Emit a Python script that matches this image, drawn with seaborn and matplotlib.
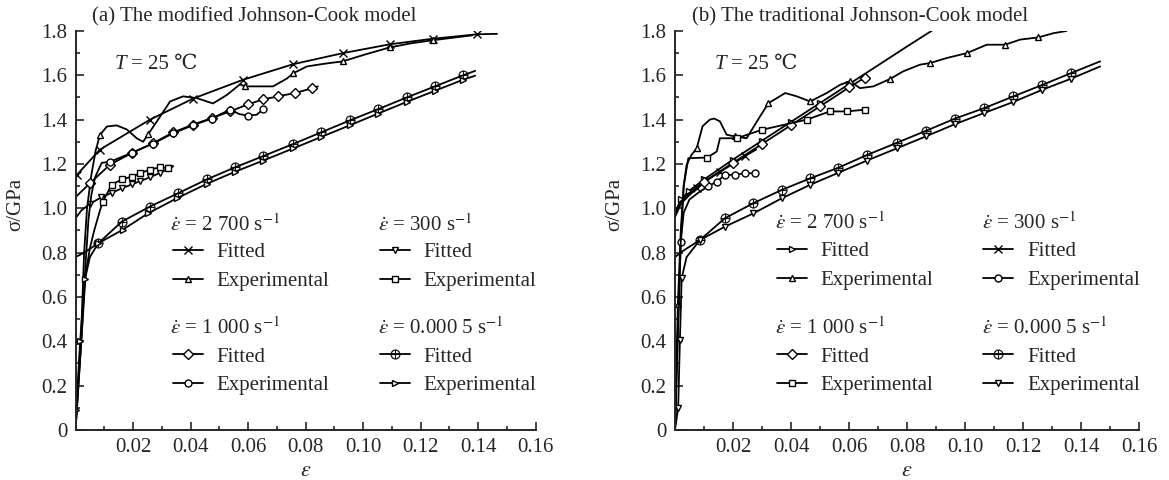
import matplotlib
matplotlib.use('Agg')
import matplotlib.pyplot as plt
import seaborn as sns

# ---- (a) modified Johnson-Cook ----
a_2700_fit_x = [0, 0.0004, 0.0085, 0.0259, 0.0409, 0.0583, 0.0757, 0.093, 0.1094, 0.1243, 0.1397, 0.1466]
a_2700_fit_y = [1.13, 1.15, 1.265, 1.40, 1.495, 1.58, 1.65, 1.70, 1.74, 1.765, 1.785, 1.787]
a_2700_exp_x = [0, 0.002, 0.003, 0.004, 0.0055, 0.007, 0.0085, 0.0109, 0.0143, 0.0178, 0.0213, 0.0235,
                0.0252, 0.0282, 0.0329, 0.0374, 0.0422, 0.0478, 0.0525, 0.0572, 0.059, 0.0687, 0.0736,
                0.0757, 0.0805, 0.0865, 0.093, 0.101, 0.1094, 0.117, 0.1243, 0.1315, 0.1379]
a_2700_exp_y = [0, 0.45, 0.8, 1.0, 1.15, 1.26, 1.331, 1.369, 1.374, 1.356, 1.316, 1.30,
                1.333, 1.39, 1.482, 1.505, 1.497, 1.473, 1.51, 1.559, 1.55, 1.55, 1.586,
                1.609, 1.64, 1.652, 1.663, 1.695, 1.726, 1.745, 1.758, 1.77, 1.78]
a_1000_fit_x = [0, 0.005, 0.012, 0.0195, 0.027, 0.0339, 0.0409, 0.0474, 0.0537, 0.06, 0.0652, 0.0704, 0.0763, 0.0822, 0.0843]
a_1000_fit_y = [1.05, 1.113, 1.197, 1.249, 1.294, 1.342, 1.378, 1.407, 1.437, 1.469, 1.491, 1.505, 1.52, 1.541, 1.55]
a_1000_exp_x = [0, 0.002, 0.0035, 0.0045, 0.0055, 0.0068, 0.0091, 0.012, 0.0195, 0.027, 0.0339, 0.0409,
                0.0474, 0.0537, 0.057, 0.06, 0.063, 0.0652]
a_1000_exp_y = [0, 0.4, 0.75, 0.95, 1.06, 1.14, 1.205, 1.21, 1.25, 1.292, 1.338, 1.375,
                1.405, 1.445, 1.425, 1.418, 1.422, 1.446]
a_300_fit_x = [0, 0.002, 0.005, 0.009, 0.0126, 0.0161, 0.0196, 0.0224, 0.0259, 0.0294, 0.0325, 0.034]
a_300_fit_y = [0.955, 0.99, 1.02, 1.05, 1.07, 1.09, 1.108, 1.122, 1.14, 1.16, 1.18, 1.19]
a_300_exp_x = [0, 0.002, 0.0035, 0.005, 0.0065, 0.0085, 0.0095, 0.0126, 0.0161, 0.0196, 0.0224, 0.0259, 0.0294, 0.0322, 0.0335]
a_300_exp_y = [0, 0.4, 0.7, 0.82, 0.9, 0.99, 1.03, 1.107, 1.13, 1.143, 1.158, 1.175, 1.185, 1.181, 1.19]
a_qs_fit_x = [0, 0.003, 0.0079, 0.0161, 0.0259, 0.0357, 0.0456, 0.0555, 0.0652, 0.0757, 0.0855, 0.0955,
              0.1052, 0.1152, 0.125, 0.1348, 0.139]
a_qs_fit_y = [0.78, 0.80, 0.842, 0.94, 1.008, 1.068, 1.13, 1.185, 1.235, 1.29, 1.343, 1.397,
              1.447, 1.50, 1.55, 1.60, 1.62]
a_qs_exp_x = [0, 0.0003, 0.0016, 0.0033, 0.005, 0.0079, 0.0165, 0.0252, 0.0352, 0.0456, 0.0555, 0.0652,
              0.0757, 0.0855, 0.0955, 0.1052, 0.1152, 0.125, 0.1348, 0.139]
a_qs_exp_y = [0, 0.09, 0.4, 0.68, 0.78, 0.842, 0.904, 0.977, 1.045, 1.11, 1.165, 1.215,
              1.27, 1.322, 1.375, 1.427, 1.48, 1.53, 1.58, 1.598]

# ---- (b) traditional Johnson-Cook ----
b_2700_fit_x = [0, 0.002, 0.005, 0.01, 0.02, 0.03, 0.04, 0.05, 0.06, 0.07, 0.08, 0.089]
b_2700_fit_y = [0.98, 1.04, 1.08, 1.13, 1.22, 1.305, 1.39, 1.475, 1.56, 1.645, 1.73, 1.805]
b_2700_exp_x = [0, 0.001, 0.002, 0.003, 0.004, 0.0057, 0.0075, 0.0095, 0.012, 0.0135, 0.0155, 0.0178,
                0.0207, 0.0247, 0.0293, 0.0322, 0.038, 0.042, 0.0466, 0.0523, 0.0569, 0.0603, 0.0638,
                0.0684, 0.0741, 0.0787, 0.0845, 0.0879, 0.0937, 0.1006, 0.1075, 0.1138, 0.119, 0.1253,
                0.1305, 0.135]
b_2700_exp_y = [0, 0.57, 0.9, 1.1, 1.196, 1.241, 1.271, 1.37, 1.40, 1.405, 1.392, 1.332,
                1.324, 1.316, 1.414, 1.474, 1.52, 1.505, 1.482, 1.52, 1.557, 1.573, 1.542,
                1.55, 1.583, 1.618, 1.648, 1.655, 1.678, 1.70, 1.738, 1.738, 1.761, 1.771,
                1.79, 1.80]
b_1000_fit_x = [0, 0.002, 0.005, 0.01, 0.02, 0.03, 0.04, 0.05, 0.06, 0.0655]
b_1000_fit_y = [0.97, 1.03, 1.07, 1.12, 1.205, 1.29, 1.375, 1.46, 1.545, 1.59]
b_1000_exp_x = [0, 0.001, 0.002, 0.003, 0.0046, 0.0111, 0.0144, 0.0155, 0.0213, 0.0299, 0.035, 0.0454, 0.0534, 0.0592, 0.0655]
b_1000_exp_y = [0, 0.45, 0.85, 1.1, 1.226, 1.229, 1.256, 1.316, 1.316, 1.354, 1.369, 1.40, 1.437, 1.437, 1.445]
b_300_fit_x = [0, 0.002, 0.005, 0.0075, 0.0115, 0.0155, 0.02, 0.024, 0.028]
b_300_fit_y = [0.96, 1.02, 1.06, 1.09, 1.13, 1.165, 1.20, 1.235, 1.265]
b_300_exp_x = [0, 0.001, 0.002, 0.003, 0.005, 0.008, 0.0115, 0.0144, 0.0172, 0.0207, 0.024, 0.0276]
b_300_exp_y = [0, 0.45, 0.85, 0.98, 1.04, 1.07, 1.10, 1.12, 1.15, 1.152, 1.158, 1.158]
b_qs_fit_x = [0, 0.003, 0.0086, 0.0172, 0.027, 0.0368, 0.0466, 0.0563, 0.0661, 0.0764, 0.0866, 0.0966,
              0.1066, 0.1167, 0.1267, 0.1366, 0.1466]
b_qs_fit_y = [0.78, 0.81, 0.857, 0.955, 1.023, 1.083, 1.135, 1.183, 1.24, 1.295, 1.35, 1.405,
              1.452, 1.505, 1.557, 1.61, 1.663]
b_qs_exp_x = [0, 0.0011, 0.0017, 0.0023, 0.004, 0.0086, 0.0172, 0.027, 0.0368, 0.0466, 0.0563, 0.0661,
              0.0764, 0.0866, 0.0966, 0.1066, 0.1167, 0.1267, 0.1366, 0.1466]
b_qs_exp_y = [0, 0.1, 0.407, 0.684, 0.78, 0.857, 0.917, 0.977, 1.045, 1.106, 1.16, 1.215,
              1.27, 1.325, 1.38, 1.43, 1.48, 1.535, 1.585, 1.64]

rate_labels = ['2 700', '300', '1 000', '0.000 5']
xticks = [0.02, 0.04, 0.06, 0.08, 0.10, 0.12, 0.14, 0.16]
yticks = [0, 0.2, 0.4, 0.6, 0.8, 1.0, 1.2, 1.4, 1.6, 1.8]
ytick_labels = ['0', '0.2', '0.4', '0.6', '0.8', '1.0', '1.2', '1.4', '1.6', '1.8']
titles = ['(a) The modified Johnson-Cook model', '(b) The traditional Johnson-Cook model']

sns.set_style('ticks')
plt.rcParams['font.family'] = ['Liberation Serif', 'DejaVu Serif', 'DejaVu Sans']
plt.rcParams['mathtext.fontset'] = 'stix'
plt.rcParams['font.size'] = 15

OPLUS = r'$\oplus$'


def draw(ax, x, y, marker, every):
    if marker == OPLUS:
        ms, mew, mfc = 7, 0.2, 'black'
    elif marker == 'x':
        ms, mew, mfc = 6, 1.0, 'white'
    else:
        ms, mew, mfc = 5, 1.0, 'white'
    sns.lineplot(x=x, y=y, ax=ax, color='black', linewidth=1.3, estimator=None,
                 marker=marker, markevery=every, markersize=ms,
                 markerfacecolor=mfc, markeredgecolor='black', markeredgewidth=mew)
    return ax.lines[-1]


fig = plt.figure(figsize=(11.69, 4.8), dpi=100)
ax_a = fig.add_axes([0.0646, 0.1042, 0.3935, 0.8313])
ax_b = fig.add_axes([0.5774, 0.1042, 0.397, 0.8313])

# per rate: (fit x, fit y, marker, markevery), (exp ...)
groups_a = [
    ((a_2700_fit_x, a_2700_fit_y, 'x', list(range(1, 11))),
     (a_2700_exp_x, a_2700_exp_y, '^', [6, 12, 20, 23, 26, 28, 30])),
    ((a_300_fit_x, a_300_fit_y, 'v', list(range(2, 11))),
     (a_300_exp_x, a_300_exp_y, 's', list(range(6, 14)))),
    ((a_1000_fit_x, a_1000_fit_y, 'D', list(range(1, 14))),
     (a_1000_exp_x, a_1000_exp_y, 'o', [7, 8, 9, 10, 11, 12, 13, 15, 17])),
    ((a_qs_fit_x, a_qs_fit_y, OPLUS, list(range(2, 16))),
     (a_qs_exp_x, a_qs_exp_y, '>', [1, 2, 3] + list(range(5, 19)))),
]
groups_b = [
    ((b_2700_fit_x, b_2700_fit_y, '>', list(range(1, 9))),
     (b_2700_exp_x, b_2700_exp_y, '^', [1, 6, 12, 15, 18, 21, 24, 27, 29, 31, 33])),
    ((b_300_fit_x, b_300_fit_y, 'x', [3, 5, 7]),
     (b_300_exp_x, b_300_exp_y, 'o', [2, 6, 7, 8, 9, 10, 11])),
    ((b_1000_fit_x, b_1000_fit_y, 'D', list(range(3, 10))),
     (b_1000_exp_x, b_1000_exp_y, 's', [5, 8, 9, 11, 12, 13, 14])),
    ((b_qs_fit_x, b_qs_fit_y, OPLUS, list(range(2, 16))),
     (b_qs_exp_x, b_qs_exp_y, 'v', [1, 2, 3] + list(range(5, 19)))),
]

# header (x, y) and legend anchor (x, y) in axes fractions
head_pos = {
    'a': [(0.205, 0.514), (0.658, 0.514), (0.205, 0.256), (0.658, 0.256)],
    'b': [(0.2155, 0.519), (0.6616, 0.519), (0.2155, 0.256), (0.6616, 0.256)],
}
leg_pos = {
    'a': [(0.2117, 0.469), (0.662, 0.469), (0.2117, 0.208), (0.662, 0.208)],
    'b': [(0.22, 0.472), (0.664, 0.472), (0.22, 0.208), (0.664, 0.208)],
}

for key, ax, groups, title in [('a', ax_a, groups_a, titles[0]), ('b', ax_b, groups_b, titles[1])]:
    handles = []
    for fit, exp in groups:
        h1 = draw(ax, *fit)
        h2 = draw(ax, *exp)
        handles.append((h1, h2))

    ax.set_xlim(0, 0.16)
    ax.set_ylim(0, 1.8)
    ax.set_xticks(xticks, [f'{t:.2f}' for t in xticks])
    ax.set_xticks([0.01 + 0.02 * i for i in range(8)], minor=True)
    ax.set_yticks(yticks, ytick_labels)
    ax.set_yticks([0.1 + 0.2 * i for i in range(9)], minor=True)
    ax.tick_params(which='both', direction='in', width=1.2, labelsize=15, pad=6)
    ax.tick_params(which='major', length=6)
    ax.tick_params(which='minor', length=3)
    for s in ['top', 'right']:
        ax.spines[s].set_visible(False)
    for s in ['left', 'bottom']:
        ax.spines[s].set_linewidth(1.4)

    ax.set_xlabel(r'$\varepsilon$', fontsize=16)
    ax.xaxis.set_label_coords(0.5, -0.08)
    ax.set_ylabel('σ/GPa', fontsize=15)
    ax.yaxis.set_label_coords(-0.11, 0.564)
    ax.text(0.036, 1.035, title, transform=ax.transAxes, fontsize=15, va='center', ha='left')
    t = ax.text(0.086, 0.915, 'T', transform=ax.transAxes, fontsize=15, style='italic',
                va='center', ha='left')
    ax.annotate('= 25 ℃', xy=(1, 0), xycoords=t, xytext=(3, 0), textcoords='offset points',
                fontsize=15, va='bottom', ha='left')

    legs = []
    for (h1, h2), rate, hp, lp in zip(handles, rate_labels, head_pos[key], leg_pos[key]):
        ax.text(hp[0], hp[1], r'$\dot{\varepsilon}$ = ' + rate + r' s$^{-1}$', transform=ax.transAxes,
                fontsize=15, va='center', ha='left')
        leg = ax.legend([h1, h2], ['Fitted', 'Experimental'],
                        loc='upper left', bbox_to_anchor=lp, frameon=False,
                        fontsize=15, handlelength=1.45, handletextpad=0.65, labelspacing=0.44,
                        borderpad=0, borderaxespad=0)
        legs.append(leg)
    for leg in legs[:-1]:
        ax.add_artist(leg)

fig.savefig('out.png', dpi=100)
